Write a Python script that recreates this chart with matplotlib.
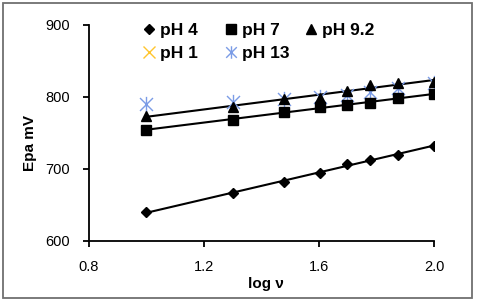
import numpy as np
import matplotlib
matplotlib.use("Agg")
import matplotlib.pyplot as plt
from matplotlib.lines import Line2D
from matplotlib.patches import Rectangle
from matplotlib.path import Path

plt.rcParams['font.family'] = ['Liberation Sans', 'DejaVu Sans']

log_v = [1.0, 1.301, 1.477, 1.602, 1.699, 1.778, 1.875, 2.0]
ph4 = [639.6, 666.5, 682.5, 695.0, 707.0, 712.5, 719.5, 732.0]
ph7 = [754.2, 768.0, 779.5, 785.6, 788.8, 792.0, 798.0, 803.6]
ph92 = [773.6, 786.4, 796.7, 798.0, 808.6, 816.5, 818.8, 821.0]
ph1_x = []
ph1 = []
ph13 = [790.0, 793.4, 796.7, 800.3, 802.6, 807.0, 812.0, 818.8]

x_ticks = [0.8, 1.2, 1.6, 2.0]
y_ticks = [600, 700, 800, 900]

fig = plt.figure(figsize=(4.8, 3.01), dpi=100)
ax = fig.add_axes([89/480, 1-241/301, (434-89)/480, (241-24.7)/301])

blue = '#7B9CE6'
yellow = '#FFC52E'

star = Path([(0, -1), (0, 1), (-0.85, -0.85), (0.85, 0.85), (-0.85, 0.85), (0.85, -0.85)],
            [Path.MOVETO, Path.LINETO, Path.MOVETO, Path.LINETO, Path.MOVETO, Path.LINETO])

x = np.array(log_v)
for ys in (ph4, ph7, ph92):
    k, b = np.polyfit(x, ys, 1)
    ax.plot([x.min(), x.max()], [k*x.min()+b, k*x.max()+b], color='black', lw=1.5, zorder=2)

ax.plot(log_v, ph13, linestyle='none', marker=star, ms=11, mec=blue, mfc='none', mew=1.0, zorder=3, label='pH 13')
ax.plot(ph1_x, ph1, linestyle='none', marker='x', ms=9, mec=yellow, mew=1.0, zorder=3, label='pH 1')
ax.plot(log_v, ph4, linestyle='none', marker='D', ms=5, color='black', zorder=4, label='pH 4')
ax.plot(log_v, ph7, linestyle='none', marker='s', ms=7, color='black', zorder=4, label='pH 7')
ax.plot(log_v, ph92, linestyle='none', marker='^', ms=7, color='black', zorder=4, label='pH 9.2')

ax.set_xlim(0.8, 2.0)
ax.set_ylim(600, 900)
ax.set_xticks(x_ticks)
ax.set_xticklabels([f'{t:.1f}' for t in x_ticks])
ax.set_yticks(y_ticks)
ax.set_yticklabels([str(t) for t in y_ticks])
for s in ('top', 'right'):
    ax.spines[s].set_visible(False)
for s in ('left', 'bottom'):
    ax.spines[s].set_linewidth(1.3)
ax.tick_params(direction='out', length=4, width=1.3, labelsize=10.5, pad=10)
ax.set_xlabel('log ν', fontsize=11, fontweight='bold')
ax.xaxis.set_label_coords((266-89)/345, -(277-241)/216.3)
ax.set_ylabel('Epa mV', fontsize=11, fontweight='bold')
ax.yaxis.set_label_coords(-(89-37)/345, (241-143)/216.3)

h_ph4 = Line2D([], [], linestyle='none', marker='D', ms=5, color='black')
h_ph1 = Line2D([], [], linestyle='none', marker='x', ms=8, mec=yellow, mew=1.0)
h_ph7 = Line2D([], [], linestyle='none', marker='s', ms=7, color='black')
h_ph13 = Line2D([], [], linestyle='none', marker=star, ms=9, mec=blue, mfc='none', mew=1.0)
h_ph92 = Line2D([], [], linestyle='none', marker='^', ms=7, color='black')

columns = [([h_ph4, h_ph1], ['pH 4', 'pH 1'], 144),
           ([h_ph7, h_ph13], ['pH 7', 'pH 13'], 226),
           ([h_ph92], ['pH 9.2'], 306)]
for hs, ls, xpx in columns:
    fig.legend(hs, ls, ncol=1, loc='upper left', bbox_to_anchor=(xpx/480, 1-23/301),
               frameon=False, prop={'weight': 'bold', 'size': 12.5},
               handlelength=0.6, handletextpad=0.3, labelspacing=0.45,
               borderpad=0, borderaxespad=0)

fig.patches.append(Rectangle((3/480, 3/301), 469/480, 295/301, transform=fig.transFigure,
                             fill=False, edgecolor='#707070', lw=1.3))

fig.savefig('out.png', dpi=100)
